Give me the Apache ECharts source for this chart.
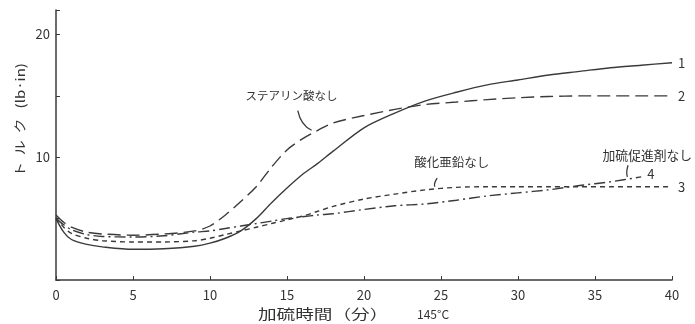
<!DOCTYPE html>
<html>
<head>
<meta charset="utf-8">
<script src="https://cdn.jsdelivr.net/npm/echarts@6/dist/echarts.min.js"></script>
<style>
html,body{margin:0;padding:0;background:#fff;}
#c{width:695px;height:324px;}
</style>
</head>
<body>
<div id="c"></div>
<script>
// ---- data ----
var times = [0, 0.5, 1, 2, 3, 5, 7, 9, 10, 11, 12, 13, 14, 15, 16, 17, 18, 20, 22, 24, 26, 28, 30, 32, 34, 36, 38, 40];
var curve1 = [5.0, 3.9, 3.3, 2.9, 2.7, 2.5, 2.55, 2.75, 3.0, 3.4, 4.0, 5.0, 6.3, 7.5, 8.6, 9.5, 10.5, 12.4, 13.6, 14.6, 15.3, 15.9, 16.3, 16.7, 17.0, 17.3, 17.5, 17.7];
var curve2 = [5.3, 4.7, 4.3, 3.9, 3.75, 3.65, 3.75, 4.0, 4.4, 5.3, 6.4, 7.6, 9.2, 10.6, 11.5, 12.2, 12.8, 13.4, 13.9, 14.3, 14.5, 14.7, 14.85, 14.95, 15.0, 15.0, 15.0, 15.0];
var curve3 = [5.1, 4.3, 3.8, 3.4, 3.2, 3.1, 3.1, 3.2, 3.4, 3.7, 4.0, 4.3, 4.6, 4.9, 5.2, 5.6, 6.0, 6.6, 7.0, 7.35, 7.55, 7.6, 7.6, 7.6, 7.6, 7.6, 7.6, 7.6];
var curve4 = [5.0, 4.5, 4.1, 3.7, 3.55, 3.5, 3.6, 3.9, 4.0, 4.2, 4.4, 4.6, 4.8, 5.0, 5.15, 5.3, 5.4, 5.75, 6.05, 6.2, 6.5, 6.85, 7.1, 7.35, 7.7, 8.0, 8.4];
var curveNames = ['1', '2', '3', '4'];
var xTicks = [0, 5, 10, 15, 20, 25, 30, 35, 40];
var yTickLabels = [10, 20];
var xAxisTitle = '加硫時間（分）';
var tempText = '145°C';
var yAxisTitle = 'ト  ル  ク   (lb·in)';
// annotations: text anchors in data coords, and arrow curves [x1,y1,cx,cy,x2,y2]
var noteTexts = ['ステアリン酸なし', '酸化亜鉛なし', '加硫促進剤なし'];
var noteAt = [[15.3, 15.0], [25.7, 9.6], [38.4, 10.2]];
var arrowPaths = [[15.7, 13.8, 15.9, 12.6, 16.6, 12.2], [24.75, 8.3, 24.5, 7.8, 24.6, 7.6], [37.15, 9.35, 37.0, 8.8, 37.1, 8.4]];

function pairs(vals) { return vals.map(function (v, i) { return [times[i], v]; }); }

var ink = '#3a3a3a';
var FONT = '"Noto Sans CJK JP", "Noto Sans", sans-serif';
var styles = [
  { type: 'solid' },
  { type: [13, 6] },
  { type: [5, 4] },
  { type: [11, 4, 2, 4] }
];
var noteSizes = [11.5, 12.5, 12.8];
var allCurves = [curve1, curve2, curve3, curve4];

var chart = echarts.init(document.getElementById('c'));
var option = {
  backgroundColor: '#fff',
  animation: false,
  grid: { left: 56, right: 23, top: 10, bottom: 44 },
  xAxis: {
    type: 'value', min: 0, max: 40, interval: 5,
    axisLine: { lineStyle: { color: ink, width: 1.5 } },
    axisTick: { inside: true, length: 4, lineStyle: { color: ink } },
    splitLine: { show: false },
    axisLabel: {
      color: '#333', fontSize: 13, fontFamily: FONT, margin: 9,
      formatter: function (v) { return xTicks.indexOf(v) >= 0 ? String(v) : ''; }
    }
  },
  yAxis: {
    type: 'value', min: 0, max: 22, interval: 5,
    axisLine: { show: true, lineStyle: { color: ink, width: 1.5 } },
    axisTick: { show: true, inside: true, length: 4, lineStyle: { color: ink } },
    splitLine: { show: false },
    axisLabel: {
      color: '#333', fontSize: 13, fontFamily: FONT, margin: 6,
      formatter: function (v) { return yTickLabels.indexOf(v) >= 0 ? String(v) : ''; }
    }
  },
  series: allCurves.map(function (c, i) {
    return {
      type: 'line', name: curveNames[i], data: pairs(c), smooth: 0.3,
      showSymbol: false, symbol: 'none',
      lineStyle: { color: ink, width: 1.4, type: styles[i].type },
      endLabel: {
        show: true, formatter: curveNames[i], color: '#333', fontSize: 13,
        fontFamily: FONT, distance: 6, offset: i === 3 ? [0, -3] : [0, 0]
      }
    };
  })
};
chart.setOption(option);

function px(x, y) { return chart.convertToPixel({ gridIndex: 0 }, [x, y]); }
var g = [];
noteTexts.forEach(function (t, i) {
  var p = px(noteAt[i][0], noteAt[i][1]);
  g.push({ type: 'text', x: p[0], y: p[1], style: { text: t, fill: '#333', font: noteSizes[i] + 'px ' + FONT, textAlign: 'center', textVerticalAlign: 'middle' } });
});
arrowPaths.forEach(function (a) {
  var p1 = px(a[0], a[1]), pc = px(a[2], a[3]), p2 = px(a[4], a[5]);
  g.push({ type: 'bezierCurve', shape: { x1: p1[0], y1: p1[1], cpx1: pc[0], cpy1: pc[1], x2: p2[0], y2: p2[1] }, style: { stroke: ink, lineWidth: 1.3, fill: 'none' } });
});
g.push({ type: 'text', x: 258, y: 314, scaleX: 1.33, style: { text: xAxisTitle, fill: '#333', font: '14px ' + FONT, textAlign: 'left', textVerticalAlign: 'middle' } });
g.push({ type: 'text', x: 417, y: 314, style: { text: tempText, fill: '#333', font: '12px ' + FONT, textAlign: 'left', textVerticalAlign: 'middle' } });
g.push({ type: 'text', x: 20, y: 120, rotation: Math.PI / 2, scaleX: 1.2, style: { text: yAxisTitle, fill: '#333', font: '12.5px ' + FONT, textAlign: 'center', textVerticalAlign: 'middle' } });
chart.setOption({ graphic: g });
</script>
</body>
</html>
